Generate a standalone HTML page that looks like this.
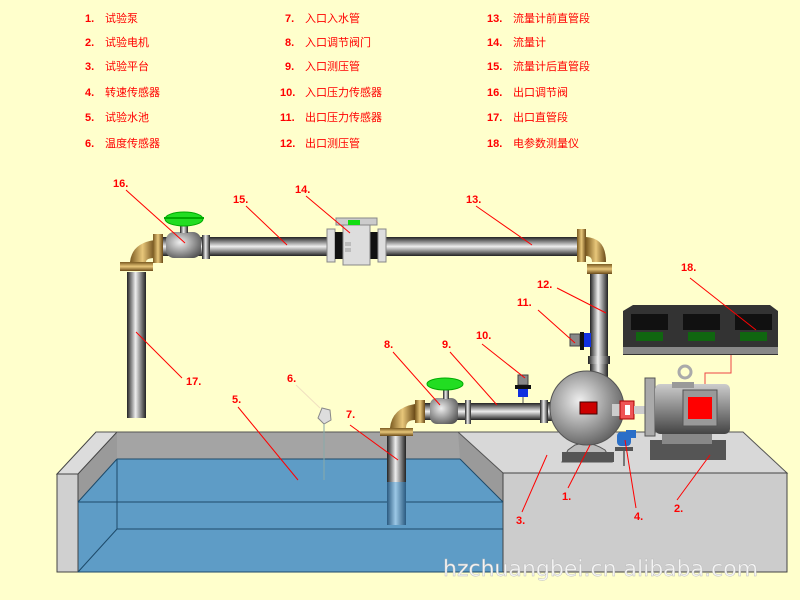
<!DOCTYPE html>
<html><head><meta charset="utf-8"><style>
html,body{margin:0;padding:0;background:#ffffcc;}
svg{display:block}
.n{font:bold 11px "Liberation Sans","Noto Sans CJK SC",sans-serif;fill:#ff0000}
.t{font:11px "Liberation Sans","Noto Sans CJK SC",sans-serif;fill:#ff0000}
</style></head><body>
<svg width="800" height="600" viewBox="0 0 800 600" xmlns="http://www.w3.org/2000/svg">
<defs>
<linearGradient id="pv" x1="0" y1="0" x2="1" y2="0"><stop offset="0" stop-color="#222"/><stop offset=".45" stop-color="#eee"/><stop offset="1" stop-color="#222"/></linearGradient>
<linearGradient id="ph" x1="0" y1="0" x2="0" y2="1"><stop offset="0" stop-color="#222"/><stop offset=".5" stop-color="#eee"/><stop offset="1" stop-color="#222"/></linearGradient>
<linearGradient id="bv" x1="0" y1="0" x2="1" y2="0"><stop offset="0" stop-color="#7a5a20"/><stop offset=".5" stop-color="#e8c77a"/><stop offset="1" stop-color="#6a4a18"/></linearGradient>
<linearGradient id="bh" x1="0" y1="0" x2="0" y2="1"><stop offset="0" stop-color="#7a5a20"/><stop offset=".5" stop-color="#e8c77a"/><stop offset="1" stop-color="#6a4a18"/></linearGradient>
<linearGradient id="wv" x1="0" y1="0" x2="1" y2="0"><stop offset="0" stop-color="#2a5a80"/><stop offset=".45" stop-color="#9cc8e6"/><stop offset="1" stop-color="#2a5a80"/></linearGradient>
<radialGradient id="pc" cx=".4" cy=".4" r=".7"><stop offset="0" stop-color="#eee"/><stop offset="1" stop-color="#555"/></radialGradient>
<linearGradient id="mt" x1="0" y1="0" x2="0" y2="1"><stop offset="0" stop-color="#ccc"/><stop offset=".5" stop-color="#888"/><stop offset="1" stop-color="#444"/></linearGradient>
</defs>
<rect width="800" height="600" fill="#ffffcc"/>
<g>
<text class="n" x="85" y="22">1.</text><text class="t" x="105" y="22">试验泵</text>
<text class="n" x="85" y="46">2.</text><text class="t" x="105" y="46">试验电机</text>
<text class="n" x="85" y="70">3.</text><text class="t" x="105" y="70">试验平台</text>
<text class="n" x="85" y="96">4.</text><text class="t" x="105" y="96">转速传感器</text>
<text class="n" x="85" y="121">5.</text><text class="t" x="105" y="121">试验水池</text>
<text class="n" x="85" y="147">6.</text><text class="t" x="105" y="147">温度传感器</text>
<text class="n" x="285" y="22">7.</text><text class="t" x="305" y="22">入口入水管</text>
<text class="n" x="285" y="46">8.</text><text class="t" x="305" y="46">入口调节阀门</text>
<text class="n" x="285" y="70">9.</text><text class="t" x="305" y="70">入口测压管</text>
<text class="n" x="280" y="96">10.</text><text class="t" x="305" y="96">入口压力传感器</text>
<text class="n" x="280" y="121">11.</text><text class="t" x="305" y="121">出口压力传感器</text>
<text class="n" x="280" y="147">12.</text><text class="t" x="305" y="147">出口测压管</text>
<text class="n" x="487" y="22">13.</text><text class="t" x="513" y="22">流量计前直管段</text>
<text class="n" x="487" y="46">14.</text><text class="t" x="513" y="46">流量计</text>
<text class="n" x="487" y="70">15.</text><text class="t" x="513" y="70">流量计后直管段</text>
<text class="n" x="487" y="96">16.</text><text class="t" x="513" y="96">出口调节阀</text>
<text class="n" x="487" y="121">17.</text><text class="t" x="513" y="121">出口直管段</text>
<text class="n" x="487" y="147">18.</text><text class="t" x="513" y="147">电参数测量仪</text>
</g>
<rect x="78" y="459" width="425" height="113" fill="#5e9cc6"/>
<rect x="117" y="432" width="345" height="27" fill="#a4a4a4"/>
<polygon points="78,474 96,432 117,432 117,459 78,502" fill="#9a9a9a"/>
<polygon points="458,432 503,473 503,502 460,459" fill="#9a9a9a"/>
<polygon points="458,432 743,432 787,473 503,473" fill="#d8d8d8" stroke="#555" stroke-width="1"/>
<rect x="503" y="473" width="284" height="99" fill="#cccccc" stroke="#444" stroke-width="1"/>
<polygon points="57,474 96,432 117,432 78,474" fill="#dcdcdc" stroke="#444" stroke-width="1"/>
<rect x="57" y="474" width="21" height="98" fill="#d0d0d0" stroke="#444" stroke-width="1"/>
<g stroke="#1d4a6a" stroke-width="1" fill="none">
<line x1="78" y1="502" x2="503" y2="502"/><line x1="117" y1="529" x2="503" y2="529"/>
<line x1="117" y1="459" x2="117" y2="529"/><line x1="117" y1="529" x2="78" y2="572"/>
<line x1="117" y1="459" x2="78" y2="502"/><line x1="460" y1="459" x2="503" y2="502"/>
<line x1="117" y1="459" x2="460" y2="459"/><line x1="78" y1="572" x2="503" y2="572"/>
<line x1="96" y1="432" x2="458" y2="432" stroke="#555"/>
</g>
<rect x="127" y="272" width="19" height="146" fill="url(#pv)"/>
<path d="M130,262 Q132,243 155,240 L155,258 Q146,258 146,262 Z" fill="url(#bv)"/>
<rect x="120" y="262" width="33" height="9" fill="url(#bh)"/>
<rect x="153" y="234" width="10" height="29" fill="url(#bv)"/>
<rect x="163" y="237" width="420" height="19" fill="url(#ph)"/>
<rect x="166" y="232" width="35" height="26" rx="8" fill="url(#pc)"/>
<rect x="180" y="222" width="8" height="11" fill="url(#pv)"/>
<ellipse cx="184" cy="219" rx="19" ry="7" fill="#22dd22" stroke="#0a0"/><rect x="164" y="217" width="40" height="2" fill="#0a0"/>
<rect x="202" y="235" width="8" height="24" fill="url(#pv)"/>
<rect x="327" y="229" width="8" height="33" fill="#ddd" stroke="#888"/>
<rect x="335" y="232" width="8" height="27" fill="#111"/>
<rect x="370" y="232" width="8" height="27" fill="#111"/>
<rect x="378" y="229" width="8" height="33" fill="#ddd" stroke="#888"/>
<rect x="343" y="223" width="27" height="42" fill="#ddd" stroke="#888"/>
<rect x="336" y="218" width="41" height="7" fill="#ccc" stroke="#888"/>
<rect x="348" y="220" width="12" height="5" fill="#11dd11"/>
<rect x="345" y="242" width="6" height="4" fill="#bbb"/><rect x="345" y="248" width="6" height="4" fill="#bbb"/>
<rect x="577" y="229" width="9" height="33" fill="url(#bv)"/>
<path d="M586,237 Q606,238 606,262 L592,262 Q592,256 586,256 Z" fill="url(#bv)"/>
<rect x="587" y="264" width="25" height="10" fill="url(#bh)"/>
<rect x="590" y="274" width="18" height="125" fill="url(#pv)"/>
<rect x="588" y="356" width="22" height="8" fill="url(#pv)"/>
<rect x="570" y="334" width="10" height="12" fill="#888" stroke="#444"/>
<rect x="580" y="332" width="4" height="18" fill="#111"/>
<rect x="584" y="333" width="7" height="14" fill="#1030e0"/>
<rect x="387" y="435" width="19" height="48" fill="url(#pv)"/>
<rect x="387" y="482" width="19" height="43" fill="url(#wv)"/>
<path d="M390,428 Q392,408 415,404 L415,420 Q406,420 406,428 Z" fill="url(#bv)"/>
<rect x="380" y="428" width="33" height="8" fill="url(#bh)"/>
<rect x="415" y="400" width="10" height="23" fill="url(#bv)"/>
<rect x="425" y="403" width="140" height="17" fill="url(#ph)"/>
<rect x="430" y="398" width="28" height="26" rx="7" fill="url(#pc)"/>
<rect x="443" y="390" width="6" height="9" fill="url(#pv)"/>
<ellipse cx="445" cy="384" rx="18" ry="6" fill="#22dd22" stroke="#0a0"/>
<rect x="465" y="400" width="6" height="24" fill="url(#pv)"/>
<rect x="540" y="400" width="8" height="23" fill="url(#pv)"/>
<rect x="548" y="402" width="30" height="19" fill="url(#ph)"/>
<rect x="518" y="375" width="10" height="10" fill="#888" stroke="#444"/>
<rect x="515" y="385" width="16" height="4" fill="#111"/>
<rect x="518" y="389" width="10" height="8" fill="#1030e0"/>
<line x1="523" y1="397" x2="523" y2="403" stroke="#555"/>
<path d="M562,462 L612,462 L605,450 Q590,440 575,445 L568,450 Z" fill="#bbb" stroke="#555"/>
<rect x="562" y="452" width="52" height="10" fill="#555"/>
<circle cx="587" cy="408" r="37" fill="url(#pc)" stroke="#555"/>
<rect x="580" y="402" width="17" height="12" fill="#cc0000" stroke="#400"/>
<rect x="612" y="404" width="10" height="12" fill="#ccc"/>
<rect x="620" y="401" width="14" height="18" fill="#ee5555" stroke="#a00"/>
<rect x="625" y="405" width="5" height="10" fill="#fff"/>
<rect x="634" y="406" width="12" height="8" fill="#ccc"/>
<rect x="617" y="432" width="14" height="14" rx="4" fill="#2a6fc8"/>
<rect x="626" y="430" width="10" height="8" fill="#2a6fc8"/>
<rect x="615" y="447" width="18" height="4" fill="#555"/>
<line x1="624" y1="451" x2="624" y2="466" stroke="#777" stroke-width="2"/>
<rect x="650" y="440" width="76" height="20" fill="#555"/>
<rect x="662" y="434" width="50" height="10" fill="#888"/>
<rect x="645" y="378" width="10" height="58" fill="#aaa" stroke="#555"/>
<rect x="655" y="384" width="75" height="50" rx="5" fill="url(#mt)"/>
<rect x="683" y="390" width="34" height="36" fill="#999" stroke="#555"/>
<rect x="688" y="397" width="24" height="22" fill="#ff0000"/>
<rect x="672" y="382" width="22" height="6" fill="#999"/>
<circle cx="685" cy="372" r="6" fill="none" stroke="#aaa" stroke-width="3"/>
<polyline points="731,355 731,373 705,373 705,384" fill="none" stroke="#ee4444"/>
<polygon points="623,311 633,305 770,305 778,311 778,355 623,355" fill="#333"/>
<rect x="631" y="314" width="37" height="16" fill="#111"/><rect x="683" y="314" width="37" height="16" fill="#111"/><rect x="735" y="314" width="37" height="16" fill="#111"/>
<rect x="636" y="332" width="27" height="9" fill="#106610"/><rect x="688" y="332" width="27" height="9" fill="#106610"/><rect x="740" y="332" width="27" height="9" fill="#106610"/>
<rect x="623" y="347" width="155" height="7" fill="#888"/>
<polygon points="318,418 322,408 330,410 331,420 324,424" fill="#ddd" stroke="#888"/>
<line x1="324" y1="424" x2="324" y2="480" stroke="#8aa" stroke-width="1"/>
<g stroke="#ff0000" stroke-width="1">
<line x1="126" y1="190" x2="185" y2="243"/><line x1="246" y1="206" x2="287" y2="245"/>
<line x1="306" y1="196" x2="350" y2="233"/><line x1="476" y1="206" x2="532" y2="245"/>
<line x1="557" y1="288" x2="606" y2="313"/><line x1="538" y1="310" x2="575" y2="343"/>
<line x1="482" y1="344" x2="525" y2="378"/><line x1="450" y1="352" x2="497" y2="405"/>
<line x1="393" y1="352" x2="440" y2="405"/><line x1="350" y1="425" x2="398" y2="460"/>
<line x1="238" y1="407" x2="298" y2="480"/><line x1="182" y1="378" x2="136" y2="332"/>
<line x1="690" y1="278" x2="756" y2="330"/><line x1="568" y1="488" x2="590" y2="445"/>
<line x1="636" y1="508" x2="625" y2="440"/><line x1="522" y1="512" x2="547" y2="455"/>
<line x1="677" y1="500" x2="710" y2="455"/>
<line x1="296" y1="385" x2="320" y2="408" stroke="#f0e0c0"/>
</g>
<g class="n">
<text x="113" y="187">16.</text><text x="233" y="203">15.</text><text x="295" y="193">14.</text><text x="466" y="203">13.</text>
<text x="537" y="288">12.</text><text x="517" y="306">11.</text><text x="476" y="339">10.</text><text x="442" y="348">9.</text>
<text x="384" y="348">8.</text><text x="346" y="418">7.</text><text x="287" y="382">6.</text><text x="232" y="403">5.</text>
<text x="186" y="385">17.</text><text x="681" y="271">18.</text><text x="562" y="500">1.</text><text x="634" y="520">4.</text>
<text x="516" y="524">3.</text><text x="674" y="512">2.</text>
</g>
<text x="443" y="576" font-family="'DejaVu Sans','Liberation Sans',sans-serif" font-size="22" fill="#f4f4f4" stroke="#bbb" stroke-width=".4">hzchuangbei.cn alibaba.com</text>
</svg>
</body></html>
